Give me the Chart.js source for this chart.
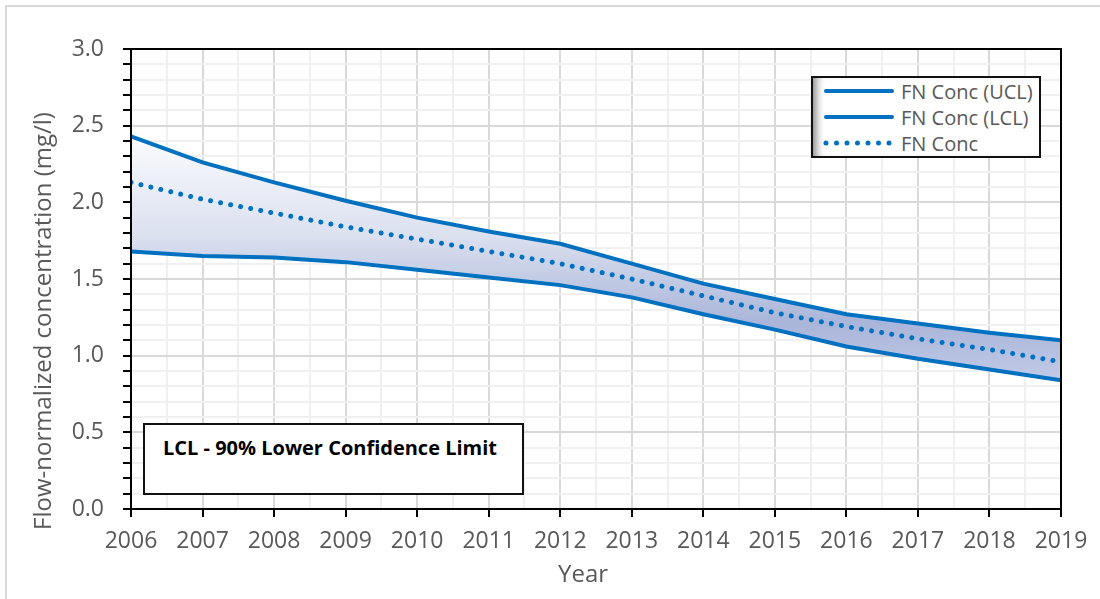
<!DOCTYPE html>
<html>
<head>
<meta charset="utf-8">
<script src="https://cdn.jsdelivr.net/npm/chart.js@4.4.1/dist/chart.umd.min.js"></script>
<style>
    body { margin: 0; background: #fff; font-family: "Open Sans", sans-serif; }
    #wrap { position: relative; width: 1100px; height: 599px; overflow: hidden; }
    #frame { position: absolute; left: 5px; top: 5px; width: 1200px; height: 700px;
             border-top: 2px solid #d9d9d9; border-left: 2px solid #d9d9d9; }
    #legend { position: absolute; left: 811px; top: 76px; width: 226px; height: 78px;
              border: 2px solid #111; background: #fff;
              box-shadow: inset 9px 0 9px -6px rgba(0,0,0,0.5); }
    .row { position: absolute; left: 10px; height: 26px; display: flex; align-items: center; }
    .row span { margin-left: 6px; font-size: 20px; color: #595959; white-space: nowrap; }
    #note { position: absolute; left: 143px; top: 423px; width: 377px; height: 68px;
            border: 2px solid #111; background: #fff; }
    #note span { position: absolute; left: 18px; top: 9px; font-weight: bold; font-size: 20px; color: #000; }
</style>
</head>
<body>
<div id="wrap">
    <div id="frame"></div>
    <canvas id="chart" width="1100" height="599"></canvas>
    <div id="legend"></div>
    <div id="note"><span>LCL - 90% Lower Confidence Limit</span></div>
</div>
<script>
const years = [2006, 2007, 2008, 2009, 2010, 2011, 2012, 2013, 2014, 2015, 2016, 2017, 2018, 2019];
const uclValues = [2.43, 2.26, 2.13, 2.01, 1.90, 1.81, 1.73, 1.60, 1.47, 1.37, 1.27, 1.21, 1.15, 1.10];
const lclValues = [1.68, 1.65, 1.64, 1.61, 1.56, 1.51, 1.46, 1.38, 1.27, 1.17, 1.06, 0.98, 0.91, 0.84];
const concValues = [2.13, 2.02, 1.93, 1.84, 1.76, 1.68, 1.60, 1.50, 1.39, 1.28, 1.19, 1.11, 1.04, 0.96];
const seriesNames = ["FN Conc (UCL)", "FN Conc (LCL)", "FN Conc"];
const yTitle = "Flow-normalized concentration (mg/l)";
const xTitle = "Year";

const blue = "#0070c0";
const grey = "#595959";

function toPoints(vals) {
    return vals.map((v, i) => ({ x: years[i], y: v }));
}

function bandFill(context) {
    const chart = context.chart;
    if (!chart.chartArea) return "rgba(170,180,216,0.6)";
    const y = chart.scales.y;
    let g = chart.ctx.createLinearGradient(0, y.getPixelForValue(2.45), 0, y.getPixelForValue(0.8));
    g.addColorStop(0, "#fbfcfe");
    g.addColorStop(0.4, "#dce1f0");
    g.addColorStop(0.75, "#a9b5d9");
    g.addColorStop(1, "#c4cce8");
    return g;
}

// frame round the plot area and the two axis titles
const framePlugin = {
    id: "framePlugin",
    afterDraw(chart) {
        const { ctx, chartArea } = chart;
        ctx.save();
        ctx.strokeStyle = "#000";
        ctx.lineWidth = 2;
        ctx.strokeRect(chartArea.left, chartArea.top, chartArea.right - chartArea.left, chartArea.bottom - chartArea.top);

        ctx.fillStyle = grey;
        ctx.font = "24px 'Open Sans'";
        ctx.textAlign = "center";
        ctx.textBaseline = "middle";
        ctx.fillText(xTitle, 583, 575);

        ctx.translate(44, 321);
        ctx.rotate(-Math.PI / 2);
        ctx.fillText(yTitle, 0, 0);
        ctx.restore();
    }
};

const ctx = document.getElementById("chart").getContext("2d");

const chart = new Chart(ctx, {
    type: "line",
    data: {
        datasets: [{
            label: seriesNames[0],
            data: toPoints(uclValues),
            borderColor: blue,
            borderWidth: 4,
            backgroundColor: bandFill,
            fill: "+1",
            pointRadius: 0,
            tension: 0
        }, {
            label: seriesNames[1],
            data: toPoints(lclValues),
            borderColor: blue,
            borderWidth: 4,
            fill: false,
            pointRadius: 0,
            tension: 0
        }, {
            label: seriesNames[2],
            data: toPoints(concValues),
            borderColor: blue,
            borderWidth: 5,
            borderDash: [0.01, 10.2],
            borderCapStyle: "round",
            fill: false,
            pointRadius: 0,
            tension: 0
        }]
    },
    options: {
        responsive: false,
        animation: false,
        layout: { padding: { left: 0, top: 49, right: 39, bottom: 0 } },
        plugins: {
            legend: { display: false },
            tooltip: { enabled: false },
            filler: { drawTime: "beforeDatasetsDraw" }
        },
        scales: {
            x: {
                type: "linear",
                min: 2006,
                max: 2019,
                afterBuildTicks: (scale) => {
                    let t = [];
                    for (let v = 2006; v <= 2019; v += 0.5) t.push({ value: v });
                    scale.ticks = t;
                },
                afterFit: (scale) => { scale.height = 90; },
                ticks: {
                    autoSkip: false,
                    maxRotation: 0,
                    padding: 11,
                    color: grey,
                    font: { family: "Open Sans", size: 23 },
                    callback: (v) => Number.isInteger(v) ? String(v) : ""
                },
                grid: {
                    color: (c) => Number.isInteger(c.tick.value) ? "#d9d9d9" : "#f0f0f0",
                    lineWidth: 2,
                    tickColor: (c) => Number.isInteger(c.tick.value) ? "#000" : "rgba(0,0,0,0)",
                    tickLength: 8,
                    tickWidth: 2
                },
                border: { color: "#000", width: 2 }
            },
            y: {
                min: 0,
                max: 3,
                afterBuildTicks: (scale) => {
                    let t = [];
                    for (let i = 0; i <= 30; i++) t.push({ value: i / 10 });
                    scale.ticks = t;
                },
                afterFit: (scale) => { scale.width = 131; },
                ticks: {
                    autoSkip: false,
                    padding: 19,
                    color: grey,
                    font: { family: "Open Sans", size: 23 },
                    callback: (v) => Math.round(v * 10) % 5 === 0 ? v.toFixed(1) : ""
                },
                grid: {
                    color: (c) => Math.round(c.tick.value * 10) % 5 === 0 ? "#d9d9d9" : "#f0f0f0",
                    lineWidth: 2,
                    tickColor: "#000",
                    tickLength: 8,
                    tickWidth: 2
                },
                border: { color: "#000", width: 2 }
            }
        }
    },
    plugins: [framePlugin]
});

// legend built from the datasets, drawn as html over the plot
const legend = document.getElementById("legend");
chart.data.datasets.forEach((ds, i) => {
    let row = document.createElement("div");
    row.className = "row";
    row.style.top = (0 + i * 26) + "px";
    let dotted = ds.borderDash && ds.borderDash.length;
    row.innerHTML =
        '<svg width="72" height="10"><line x1="3" y1="5" x2="69" y2="5" stroke="' + blue + '" stroke-width="' +
        (dotted ? 5 : 4) + '" stroke-linecap="round"' + (dotted ? ' stroke-dasharray="0 10.5"' : '') + '/></svg>' +
        '<span>' + ds.label + '</span>';
    legend.appendChild(row);
});
</script>
</body>
</html>
